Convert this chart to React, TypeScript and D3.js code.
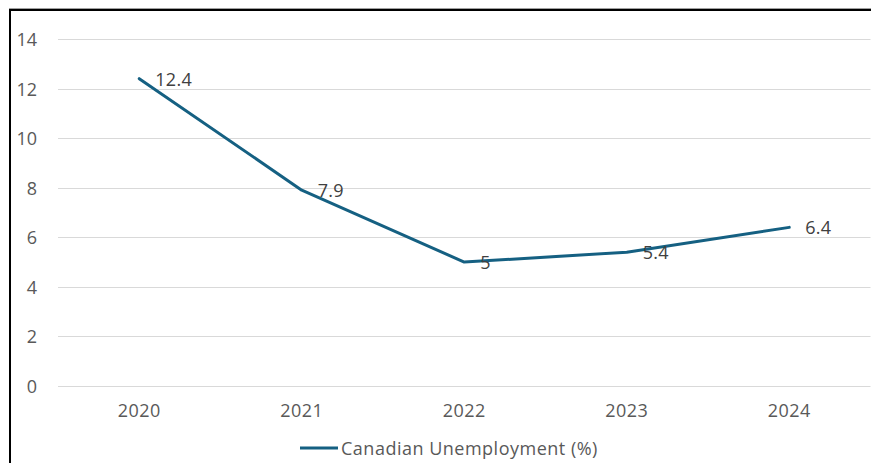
import React from "react";
import * as d3 from "d3";

const years = ["2020", "2021", "2022", "2023", "2024"];
const unemployment = [12.4, 7.9, 5, 5.4, 6.4];
const yTicks = [0, 2, 4, 6, 8, 10, 12, 14];
const seriesName = "Canadian Unemployment (%)";

const W = 871;
const H = 463;
const FONT = "'Open Sans', 'Liberation Sans', sans-serif";
const LINE_COLOR = "#156082";

export default function App() {
  const x = d3.scaleBand<string>().domain(years).range([58, 870.5]);
  const y = d3.scaleLinear().domain([0, 14]).range([386, 39]);
  const cx = (d: string) => (x(d) as number) + x.bandwidth() / 2;
  const pts = years.map((yr, i) => ({ yr, v: unemployment[i] }));
  const line = d3
    .line<{ yr: string; v: number }>()
    .x((d) => cx(d.yr))
    .y((d) => y(d.v));

  return (
    <svg
      width={W}
      height={H}
      style={{ position: "fixed", left: 0, top: 0, background: "#fff" }}
      fontFamily={FONT}
    >
      <rect x={0} y={0} width={W} height={H} fill="#fff" />
      {/* frame */}
      <line x1={9} y1={8.5} x2={W} y2={8.5} stroke="#a0a0a0" strokeWidth={1} />
      <line x1={10} y1={10} x2={W} y2={10} stroke="#000" strokeWidth={2} />
      <line x1={10} y1={9} x2={10} y2={H} stroke="#000" strokeWidth={2} />

      {/* gridlines */}
      {yTicks.map((t) => (
        <line
          key={t}
          x1={58}
          x2={870.5}
          y1={Math.round(y(t)) + 0.5}
          y2={Math.round(y(t)) + 0.5}
          stroke="#d9d9d9"
          strokeWidth={1}
        />
      ))}
      {/* y labels */}
      {yTicks.map((t) => (
        <text
          key={t}
          x={37}
          y={y(t)}
          textAnchor="end"
          dominantBaseline="central"
          fontSize={18}
          fill="#595959"
        >
          {t}
        </text>
      ))}
      {/* x labels */}
      {years.map((yr) => (
        <text
          key={yr}
          x={cx(yr)}
          y={410}
          textAnchor="middle"
          dominantBaseline="central"
          fontSize={18}
          letterSpacing={0.5}
          fill="#595959"
        >
          {yr}
        </text>
      ))}

      {/* series line */}
      <path
        d={line(pts) || ""}
        fill="none"
        stroke={LINE_COLOR}
        strokeWidth={3}
        strokeLinejoin="round"
        strokeLinecap="round"
      />
      {/* data labels */}
      {pts.map((p) => (
        <text
          key={p.yr}
          x={cx(p.yr) + 16}
          y={y(p.v)}
          dominantBaseline="central"
          fontSize={18}
          letterSpacing={0.3}
          fill="#404040"
        >
          {String(p.v)}
        </text>
      ))}

      {/* legend */}
      <line x1={300} x2={338} y1={448} y2={448} stroke={LINE_COLOR} strokeWidth={3} />
      <text
        x={341}
        y={448}
        dominantBaseline="central"
        fontSize={18}
        letterSpacing={0.5}
        fill="#595959"
      >
        {seriesName}
      </text>
    </svg>
  );
}
